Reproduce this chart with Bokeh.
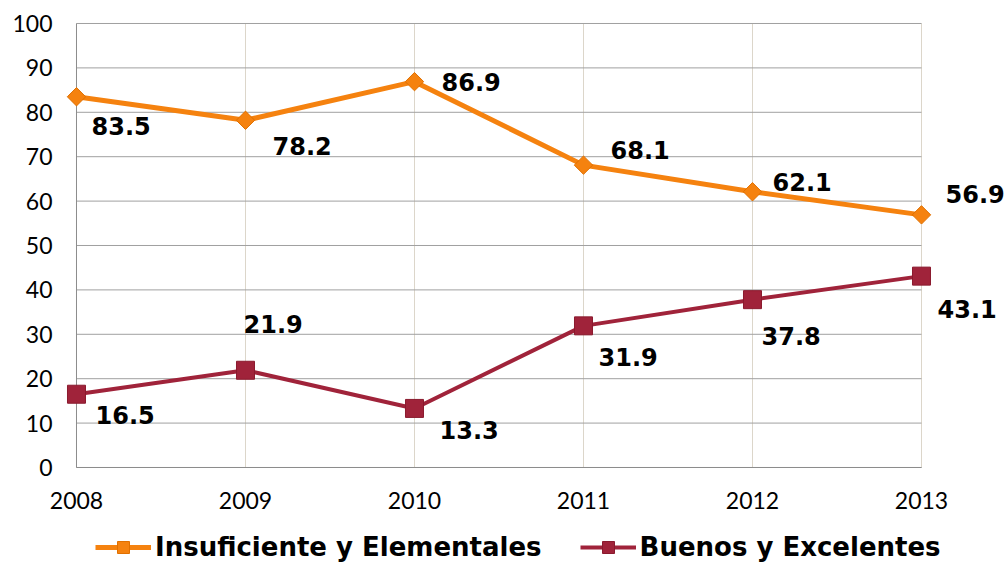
from bokeh.plotting import figure
from bokeh.models import ColumnDataSource, Legend, LegendItem, Label, LabelSet
from bokeh.core.properties import value
from bokeh.embed import file_html
from bokeh.resources import INLINE

years = [2008, 2009, 2010, 2011, 2012, 2013]
year_labels = ["2008", "2009", "2010", "2011", "2012", "2013"]
insuficiente = [83.5, 78.2, 86.9, 68.1, 62.1, 56.9]
buenos = [16.5, 21.9, 13.3, 31.9, 37.8, 43.1]
series_names = ["Insuficiente y Elementales", "Buenos y Excelentes"]
y_ticks = [0, 10, 20, 30, 40, 50, 60, 70, 80, 90, 100]
y_tick_labels = ["0", "10", "20", "30", "40", "50", "60", "70", "80", "90", "100"]

# label offsets in screen pixels (styling only; positive = right / up)
ins_dx = [15, 27, 27, 27, 20, 24]
ins_dy = [-29, -26, 0, 15, 10, 21]
bue_dx = [19, -2, 25, 15, 9, 16]
bue_dy = [-21, 46, -22, -31, -36, -33]

ORANGE = "#F5820F"
RED = "#A0233A"
# room around the plot area (in axis units) for tick labels, data labels and legend
X_PAD_LEFT, X_PAD_RIGHT = 0.4497, 0.503
Y_PAD_BOTTOM, Y_PAD_TOP = 21.4, 5.18

src_i = ColumnDataSource(dict(x=years, y=insuficiente))
src_b = ColumnDataSource(dict(x=years, y=buenos))

p = figure(width=1006, height=562, frame_width=1006, frame_height=562,
           min_border_left=0, min_border_right=0, min_border_top=0, min_border_bottom=0,
           x_range=(years[0] - X_PAD_LEFT, years[-1] + X_PAD_RIGHT),
           y_range=(y_ticks[0] - Y_PAD_BOTTOM, y_ticks[-1] + Y_PAD_TOP),
           output_backend="svg", toolbar_location=None, tools="")
p.outline_line_color = None
p.background_fill_color = "white"
p.border_fill_color = "white"
p.xaxis.visible = False
p.yaxis.visible = False
p.xgrid.visible = False
p.ygrid.visible = False

# grid lines and axis lines limited to the plot area
p.segment(x0=years, x1=years, y0=y_ticks[0], y1=y_ticks[-1],
          line_color="#DCD6CA", line_width=1, level="underlay")
p.segment(x0=years[0], x1=years[-1], y0=y_ticks, y1=y_ticks,
          line_color="#A0A0A0", line_width=1, level="underlay")
p.segment(x0=[years[0], years[0]], x1=[years[-1], years[0]],
          y0=[y_ticks[0], y_ticks[0]], y1=[y_ticks[0], y_ticks[-1]],
          line_color="#8C8C8C", line_width=1, level="underlay")

# tick labels
src_years = ColumnDataSource(dict(x=years, y=[y_ticks[0]] * len(years), t=year_labels))
p.add_layout(LabelSet(x="x", y="y", text="t", source=src_years, y_offset=-33,
                      text_font=value("Lato"), text_font_size="23px",
                      text_align="center", text_baseline="middle", text_color="black"))
src_yt = ColumnDataSource(dict(x=[years[0]] * len(y_ticks), y=y_ticks, t=y_tick_labels))
p.add_layout(LabelSet(x="x", y="y", text="t", source=src_yt, x_offset=-24,
                      text_font=value("Lato"), text_font_size="23px",
                      text_align="right", text_baseline="middle", text_color="black"))

l1 = p.line("x", "y", source=src_i, line_color=ORANGE, line_width=5)
m1 = p.scatter("x", "y", source=src_i, marker="square", angle=0.785398, size=13,
               fill_color=ORANGE, line_color="#E07000", line_width=1)
l2 = p.line("x", "y", source=src_b, line_color=RED, line_width=4)
m2 = p.scatter("x", "y", source=src_b, marker="square", size=18,
               fill_color=RED, line_color="#8A1A2E", line_width=1)

for vals, dxs, dys in ((insuficiente, ins_dx, ins_dy), (buenos, bue_dx, bue_dy)):
    for xv, yv, dx, dy in zip(years, vals, dxs, dys):
        p.add_layout(Label(x=xv, y=yv, text=f"{yv:.1f}", x_offset=dx, y_offset=dy,
                           text_font="DejaVu Sans", text_font_style="bold",
                           text_font_size="24px", text_align="left",
                           text_baseline="middle", text_color="black"))

legend = Legend(items=[LegendItem(label=series_names[0], renderers=[l1, m1]),
                       LegendItem(label=series_names[1], renderers=[l2, m2])],
                orientation="horizontal", location=(95, 0),
                label_text_font="DejaVu Sans", label_text_font_style="bold",
                label_text_font_size="26px", label_text_color="black",
                glyph_width=56, glyph_height=30, label_standoff=4, spacing=38,
                padding=0, margin=0, border_line_color=None, background_fill_alpha=0)
p.add_layout(legend, "center")

open("out.html", "w").write(file_html(p, INLINE))
